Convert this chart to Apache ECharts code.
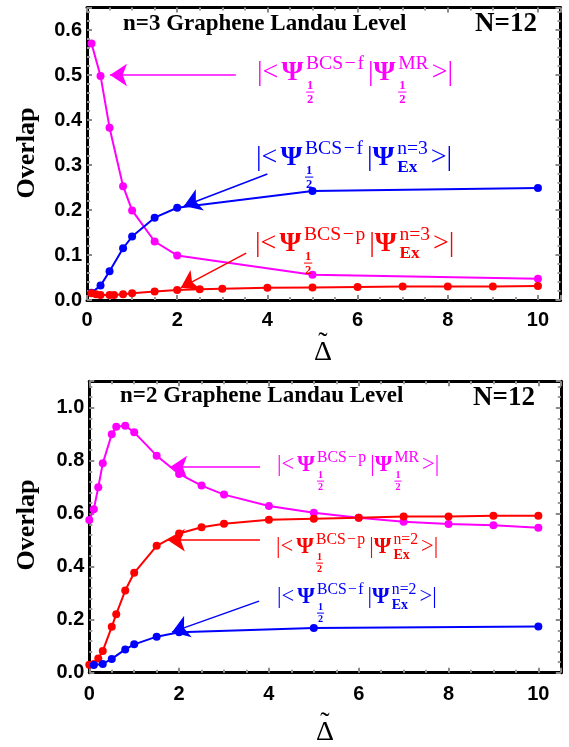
<!DOCTYPE html>
<html><head><meta charset="utf-8">
<script src="https://cdn.jsdelivr.net/npm/echarts@6/dist/echarts.min.js"></script>
<style>html,body{margin:0;padding:0;background:#fff}#c{width:569px;height:747px}</style>
</head><body><div id="c"></div>
<script>
// ---------- data ----------
const topMrX  = [0.1,0.3,0.5,0.8,1,1.5,2,5,10];
const topMrY  = [0.570,0.498,0.383,0.253,0.199,0.130,0.099,0.056,0.047];
const topExfX = [0.1,0.3,0.5,0.8,1,1.5,2,5,10];
const topExfY = [0.016,0.032,0.064,0.115,0.141,0.183,0.205,0.242,0.249];
const topExpX = [0.1,0.2,0.3,0.5,0.6,0.8,1,1.5,2,2.5,3,4,5,6,7,8,9,10];
const topExpY = [0.015,0.013,0.011,0.011,0.011,0.013,0.015,0.019,0.022,0.024,0.025,0.027,0.028,0.029,0.030,0.030,0.030,0.031];

const botMrX  = [0,0.1,0.2,0.3,0.5,0.6,0.8,1,1.5,2,2.5,3,4,5,6,7,8,9,10];
const botMrY  = [0.576,0.617,0.700,0.790,0.900,0.928,0.932,0.907,0.819,0.750,0.706,0.672,0.629,0.604,0.585,0.570,0.561,0.556,0.547];
const botExpX = [0,0.1,0.2,0.3,0.5,0.6,0.8,1,1.5,2,2.5,3,4,5,6,7,8,9,10];
const botExpY = [0.030,0.033,0.054,0.082,0.173,0.221,0.310,0.377,0.479,0.525,0.549,0.562,0.577,0.581,0.585,0.589,0.589,0.592,0.592];
const botExfX = [0.1,0.3,0.5,0.8,1,1.5,2,5,10];
const botExfY = [0.029,0.033,0.052,0.088,0.107,0.136,0.153,0.169,0.174];

const xTicks = [0,2,4,6,8,10];
const topYTicks = [0,0.1,0.2,0.3,0.4,0.5,0.6];
const botYTicks = [0,0.2,0.4,0.6,0.8,1.0];

// arrows: [start, tip] in data coordinates
const topMrArrow  = [[3.3,0.500],[0.51,0.500]];
const topExfArrow = [[4.0,0.280],[2.15,0.209]];
const topExpArrow = [[3.53,0.104],[2.08,0.027]];
const botMrArrow  = [[3.8,0.776],[1.8,0.776]];
const botExpArrow = [[3.8,0.500],[1.75,0.500]];
const botExfArrow = [[3.78,0.270],[1.84,0.153]];

const MAG = '#FF00FF', BLU = '#0000FF', RED = '#FF0000';

// ---------- helpers ----------
const zip = (xs, ys) => xs.map((x, i) => [x, ys[i]]);
const SERIF = '"Liberation Serif","Times New Roman",serif';
const SANS = '"Liberation Sans",Arial,sans-serif';
const fnt = (s, b) => (b ? 'bold ' : '') + s + 'px ' + SERIF;
const mctx = document.createElement('canvas').getContext('2d');
function tw(t, f) { mctx.font = f; return mctx.measureText(t).width; }
function txt(els, t, x, y, s, b, c, align) {
  els.push({type:'text', x:x, y:y, silent:true, z:100,
    style:{text:t, font:fnt(s,b), fill:c, align:align||'left', verticalAlign:'middle'}});
}
function psiLabel(x0, B, S, color, parts) {
  const els = []; let cx = x0;
  parts.forEach(p => {
    if (p.t !== undefined) {
      txt(els, p.t, cx, B - 0.34*S, S, false, color);
      cx += tw(p.t, fnt(S,false)) + p.g;
    } else {
      txt(els, 'Ψ', cx, B - 0.34*S, S, true, color);
      cx += tw('Ψ', fnt(S,true)) + 0.1*S;
      const supS = 0.7*S;
      const supW = tw(p.sup, fnt(supS,false));
      txt(els, p.sup, cx, B - 0.42*S - 0.34*supS, supS, false, color);
      let subW;
      if (p.sub === 'frac') {
        const fs = 0.45*S, dw = tw('1', fnt(fs,true));
        const cm = cx + dw/2 + 1;
        txt(els, '1', cm, B + 0.28*S - 0.34*fs, fs, true, color, 'center');
        txt(els, '2', cm, B + 0.78*S - 0.34*fs, fs, true, color, 'center');
        els.push({type:'line', silent:true, z:100,
          shape:{x1:cx, y1:B+0.36*S, x2:cx+dw+2, y2:B+0.36*S},
          style:{stroke:color, lineWidth:1}});
        subW = dw + 2;
      } else {
        const fs = 0.62*S;
        txt(els, p.sub, cx, B + 0.22*S - 0.34*fs, fs, true, color);
        subW = tw(p.sub, fnt(fs,true));
      }
      cx += Math.max(supW, subW) + p.g;
    }
  });
  return els;
}
const HS = '\u200A';
const bra = (supA, subA, supB, subB) => [
  {t:'|<', g:3},
  {sup:supA, sub:subA, g:4},
  {t:'|', g:0},
  {sup:supB, sub:subB, g:3},
  {t:'>|', g:0}
];
const BCSf = 'BCS'+HS+'−'+HS+'f', BCSp = 'BCS'+HS+'−'+HS+'p';

function arrowML(color, arr) {
  return {
    silent:true, animation:false, symbol:['none','arrow'], symbolSize:17,
    label:{show:false},
    lineStyle:{color:color, width:1.5, type:'solid'},
    data:[[{coord:arr[0]},{coord:arr[1]}]]
  };
}
function lineSeries(xi, xs, ys, color, ml) {
  return {type:'line', xAxisIndex:xi, yAxisIndex:xi, data:zip(xs, ys),
    symbol:'circle', symbolSize:8, showSymbol:true, animation:false,
    lineStyle:{color:color, width:2}, itemStyle:{color:color},
    emphasis:{disabled:true}, markLine:arrowML(color, ml)};
}
const isTick = (v, list) => list.some(t => Math.abs(t - v) < 1e-6);
const tickStyle = {show:true, inside:true, length:5, lineStyle:{color:'#8a8a8a', width:2}};
const minorStyle = (n) => ({show:true, splitNumber:n, length:3, lineStyle:{color:'#9a9a9a', width:2}});
const lineBlack = {show:true, onZero:false, lineStyle:{color:'#000', width:3}};

function xAxes(gi, labels, margin) {
  const base = {type:'value', gridIndex:gi, min:0, max:10.5, interval:2,
    axisLine:lineBlack, axisTick:tickStyle, minorTick:minorStyle(4), splitLine:{show:false}};
  return [
    Object.assign({}, base, {position:'bottom', axisLabel:{show:true, margin:margin, color:'#000',
      fontFamily:SANS, fontWeight:'bold', fontSize:20,
      formatter:v => isTick(v, labels) ? String(Math.round(v)) : ''}}),
    Object.assign({}, base, {position:'top', axisLabel:{show:false}})
  ];
}
function yAxes(gi, max, interval, labels) {
  const base = {type:'value', gridIndex:gi, min:0, max:max, interval:interval,
    axisLine:lineBlack, axisTick:tickStyle, minorTick:minorStyle(5), splitLine:{show:false}};
  return [
    Object.assign({}, base, {position:'left', axisLabel:{show:true, margin:5, color:'#000',
      fontFamily:SANS, fontWeight:'bold', fontSize:20,
      formatter:v => isTick(v, labels) ? v.toFixed(1) : ''}}),
    Object.assign({}, base, {position:'right', axisLabel:{show:false}})
  ];
}

// ---------- graphics (titles, names, equation labels) ----------
let g = [];
txt(g, 'n=3 Graphene Landau Level', 123, 24, 23, true, '#000');
txt(g, 'N=12', 475, 24, 27, true, '#000');
txt(g, 'n=2 Graphene Landau Level', 120, 396, 23, true, '#000');
txt(g, 'N=12', 473, 398, 27, true, '#000');
[153, 525].forEach(yc => g.push({type:'text', x:27, y:yc, rotation:Math.PI/2, silent:true,
  style:{text:'Overlap', font:fnt(26,true), fill:'#000', align:'center', verticalAlign:'middle'}}));
[[323,353],[325,733]].forEach(([xc,yc]) => {
  txt(g, 'Δ', xc, yc, 28, false, '#000', 'center');
  txt(g, '˜', xc, yc - 9, 28, false, '#000', 'center');
});
g = g.concat(
  psiLabel(257, 82, 28, MAG, bra(BCSf,'frac','MR','frac')),
  psiLabel(256, 167, 28, BLU, bra(BCSf,'frac','n=3','Ex')),
  psiLabel(255, 253, 28, RED, bra(BCSp,'frac','n=3','Ex')),
  psiLabel(277, 473, 22.5, MAG, bra(BCSp,'frac','MR','frac')),
  psiLabel(276, 555, 22.5, RED, bra(BCSp,'frac','n=2','Ex')),
  psiLabel(277, 605, 22.5, BLU, bra(BCSf,'frac','n=2','Ex'))
);

const chart = echarts.init(document.getElementById('c'), null, {renderer:'canvas'});
chart.setOption({
  animation:false,
  backgroundColor:'#fff',
  grid:[
    {left:87, top:7.5, width:473.5, height:292.5, containLabel:false},
    {left:89.3, top:381.2, width:471.5, height:291.5, containLabel:false}
  ],
  xAxis: xAxes(0, xTicks, 10).concat(xAxes(1, xTicks, 12)),
  yAxis: yAxes(0, 0.65, 0.1, topYTicks).concat(yAxes(1, 1.1, 0.2, botYTicks)),
  series:[
    lineSeries(0, topMrX, topMrY, MAG, topMrArrow),
    lineSeries(0, topExfX, topExfY, BLU, topExfArrow),
    lineSeries(0, topExpX, topExpY, RED, topExpArrow),
    lineSeries(2, botMrX, botMrY, MAG, botMrArrow),
    lineSeries(2, botExpX, botExpY, RED, botExpArrow),
    lineSeries(2, botExfX, botExfY, BLU, botExfArrow)
  ],
  graphic: g
});
</script></body></html>
